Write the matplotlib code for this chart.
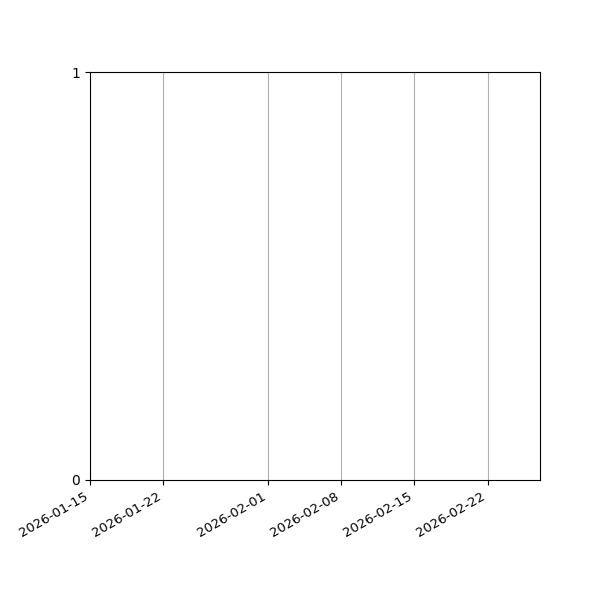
import datetime as dt
import matplotlib
matplotlib.use("Agg")
import matplotlib.pyplot as plt
import matplotlib.dates as mdates

# Données (série vide)
dates = []
valeurs = []

date_debut = dt.datetime(2026, 1, 15)
date_fin = dt.datetime(2026, 2, 27)
y_ticks = [0, 1]

fig, ax = plt.subplots(figsize=(6, 6), dpi=100)
ax.plot(dates, valeurs)

ax.set_xlim(date_debut, date_fin)
ax.set_ylim(0, 1)
ax.set_yticks(y_ticks)
ax.xaxis.set_major_locator(mdates.DayLocator(bymonthday=[1, 8, 15, 22]))
ax.xaxis.set_major_formatter(mdates.DateFormatter("%Y-%m-%d"))
ax.grid(True, axis="x")

fig.autofmt_xdate()
for lab in ax.get_xticklabels():
    lab.set_fontsize(9.5)
fig.subplots_adjust(left=0.15, right=0.9, top=0.88, bottom=0.2)
fig.savefig("out.png")
